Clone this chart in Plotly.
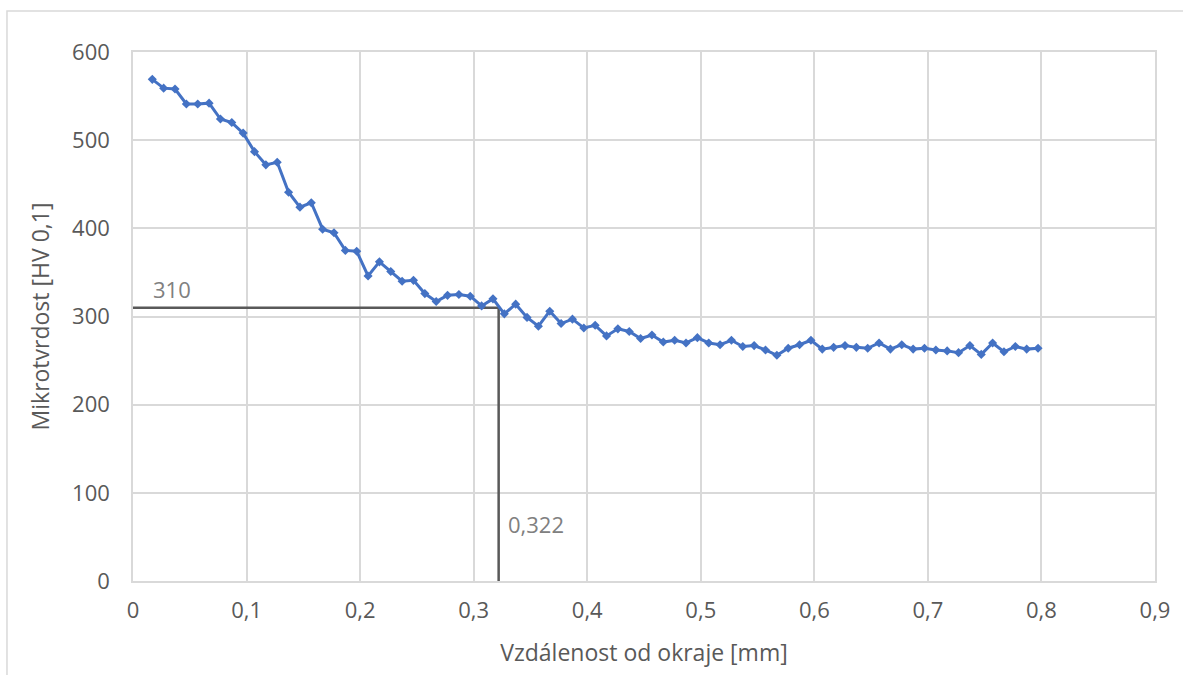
import plotly.graph_objects as go

# Distance from the edge [mm]
distance_mm = [
    0.017, 0.027, 0.037, 0.047, 0.057, 0.067, 0.077, 0.087, 0.097, 0.107,
    0.117, 0.127, 0.137, 0.147, 0.157, 0.167, 0.177, 0.187, 0.197, 0.207,
    0.217, 0.227, 0.237, 0.247, 0.257, 0.267, 0.277, 0.287, 0.297, 0.307,
    0.317, 0.327, 0.337, 0.347, 0.357, 0.367, 0.377, 0.387, 0.397, 0.407,
    0.417, 0.427, 0.437, 0.447, 0.457, 0.467, 0.477, 0.487, 0.497, 0.507,
    0.517, 0.527, 0.537, 0.547, 0.557, 0.567, 0.577, 0.587, 0.597, 0.607,
    0.617, 0.627, 0.637, 0.647, 0.657, 0.667, 0.677, 0.687, 0.697, 0.707,
    0.717, 0.727, 0.737, 0.747, 0.757, 0.767, 0.777, 0.787, 0.797,
]

# Microhardness HV 0.1
hardness_hv = [
    569, 559, 558, 541, 541, 542, 524, 520, 508, 487,
    472, 475, 441, 424, 429, 399, 395, 375, 374, 346,
    362, 351, 340, 341, 326, 317, 324, 325, 323, 312,
    320, 303, 314, 299, 289, 306, 292, 297, 287, 290,
    278, 286, 283, 275, 279, 271, 273, 270, 276, 270,
    268, 273, 266, 267, 262, 256, 264, 268, 273, 263,
    265, 267, 265, 264, 270, 263, 268, 263, 264, 262,
    261, 259, 267, 257, 270, 260, 266, 263, 264,
]

# Effective case depth marker
limit_hv = 310
limit_depth = 0.322

x_tickvals = [0, 0.1, 0.2, 0.3, 0.4, 0.5, 0.6, 0.7, 0.8, 0.9]
x_ticktext = ["0", "0,1", "0,2", "0,3", "0,4", "0,5", "0,6", "0,7", "0,8", "0,9"]
y_tickvals = [0, 100, 200, 300, 400, 500, 600]

FONT = "Open Sans"
GRID = "#d9d9d9"
TEXT = "#595959"

fig = go.Figure()

# Guide lines for the 310 HV limit
fig.add_trace(go.Scatter(
    x=[0, limit_depth, limit_depth],
    y=[limit_hv, limit_hv, 0],
    mode="lines",
    line=dict(color="#595959", width=2.5),
    hoverinfo="skip",
    showlegend=False,
))

fig.add_trace(go.Scatter(
    x=distance_mm,
    y=hardness_hv,
    mode="lines+markers",
    line=dict(color="#4472C4", width=3),
    marker=dict(symbol="diamond", size=7, color="#4472C4"),
    showlegend=False,
))

fig.add_annotation(
    x=0.016, y=limit_hv, xref="x", yref="y",
    text=str(limit_hv), showarrow=False,
    xanchor="left", yanchor="bottom", yshift=2,
    font=dict(family=FONT, size=22, color="#808080"),
)
fig.add_annotation(
    x=limit_depth, y=65, xref="x", yref="y",
    text="0,322", showarrow=False,
    xanchor="left", yanchor="middle", xshift=7,
    font=dict(family=FONT, size=22, color="#808080"),
)

# Chart frame
fig.add_shape(
    type="rect", xref="paper", yref="paper",
    x0=-0.1233, x1=1.04, y0=-0.2, y1=1.0775,
    line=dict(color=GRID, width=1.5), fillcolor="rgba(0,0,0,0)",
    layer="below",
)

fig.update_layout(
    width=1183, height=675,
    margin=dict(l=133, r=28, t=52, b=94),
    paper_bgcolor="white",
    plot_bgcolor="white",
    font=dict(family=FONT, size=22, color=TEXT),
    xaxis=dict(
        range=[0, 0.9],
        tickvals=x_tickvals, ticktext=x_ticktext,
        showgrid=True, gridcolor=GRID, gridwidth=1.5,
        showline=True, linecolor=GRID, linewidth=1.5, mirror=True,
        zeroline=False, ticks="outside", ticklen=9, tickcolor="rgba(0,0,0,0)",
        tickfont=dict(family=FONT, size=22, color=TEXT),
        title=dict(text="Vzdálenost od okraje [mm]",
                   font=dict(family=FONT, size=23, color=TEXT), standoff=22),
    ),
    yaxis=dict(
        range=[0, 600],
        tickvals=y_tickvals,
        showgrid=True, gridcolor=GRID, gridwidth=1.5,
        showline=True, linecolor=GRID, linewidth=1.5, mirror=True,
        zeroline=False, ticks="outside", ticklen=17, tickcolor="rgba(0,0,0,0)",
        tickfont=dict(family=FONT, size=22, color=TEXT),
        title=dict(text="Mikrotvrdost [HV 0,1]",
                   font=dict(family=FONT, size=23, color=TEXT), standoff=16),
    ),
)

fig.write_html("out.html")
